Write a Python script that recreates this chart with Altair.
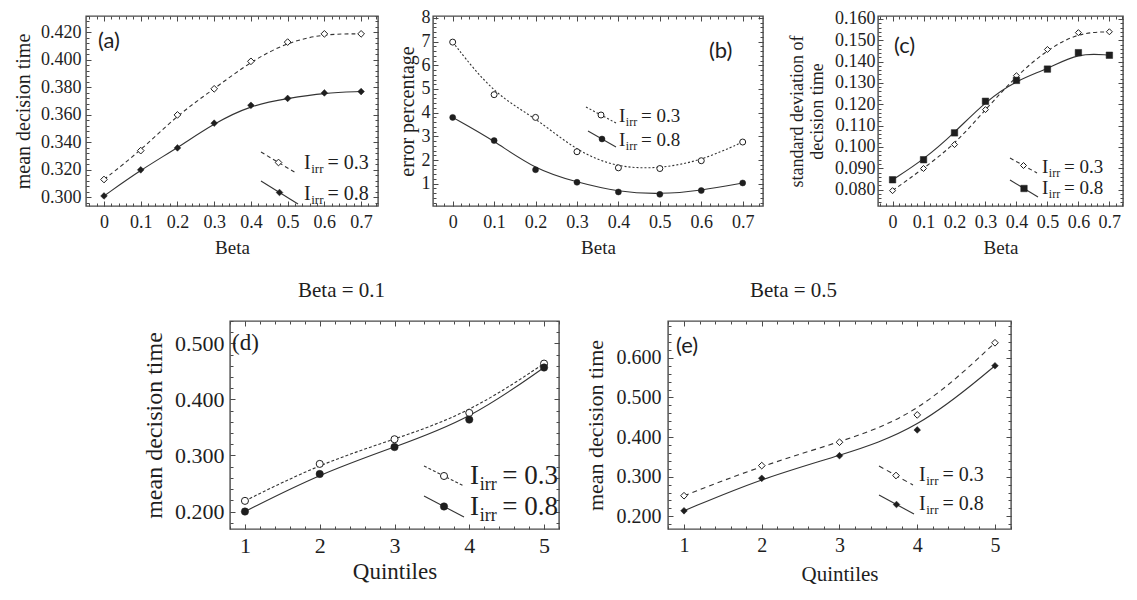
import math
import altair as alt
import pandas as pd

SERIF = "Liberation Serif"
SANS = "Lato"
INK = "#1e1e1e"
LINE = "#333333"
FRAME = "#4a4a4a"

# ---------------- data ----------------
beta = [0.0, 0.1, 0.2, 0.3, 0.4, 0.5, 0.6, 0.7]
quintiles = [1, 2, 3, 4, 5]

a_irr03 = [0.313, 0.334, 0.360, 0.379, 0.399, 0.413, 0.419, 0.419]
a_irr08 = [0.301, 0.320, 0.336, 0.354, 0.367, 0.372, 0.376, 0.377]

b_irr03 = [6.98, 4.76, 3.80, 2.35, 1.67, 1.64, 1.97, 2.76]
b_irr08 = [3.80, 2.82, 1.59, 1.06, 0.65, 0.55, 0.71, 1.03]

c_irr03 = [0.0795, 0.0899, 0.1011, 0.1175, 0.1334, 0.1457, 0.1536, 0.1540]
c_irr08 = [0.0846, 0.0940, 0.1066, 0.1214, 0.1312, 0.1365, 0.1442, 0.1430]

d_irr03 = [0.219, 0.285, 0.329, 0.376, 0.464]
d_irr08 = [0.200, 0.267, 0.315, 0.364, 0.457]

e_irr03 = [0.252, 0.328, 0.387, 0.456, 0.638]
e_irr08 = [0.214, 0.296, 0.353, 0.418, 0.580]

beta_ticks = [0, 0.1, 0.2, 0.3, 0.4, 0.5, 0.6, 0.7]
quint_ticks = [1, 2, 3, 4, 5]
a_ticks = [0.30, 0.32, 0.34, 0.36, 0.38, 0.40, 0.42]
b_ticks = [1, 2, 3, 4, 5, 6, 7, 8]
c_ticks = [0.08, 0.09, 0.10, 0.11, 0.12, 0.13, 0.14, 0.15, 0.16]
d_ticks = [0.2, 0.3, 0.4, 0.5]
e_ticks = [0.2, 0.3, 0.4, 0.5, 0.6]

legend_values = ["= 0.3", "= 0.8"]
panel_tags = ["(a)", "(b)", "(c)", "(d)", "(e)"]
row_titles = ["Beta = 0.1", "Beta = 0.5"]


def minor(lo, hi, step):
    start = math.ceil(lo / step - 1e-9)
    stop = math.floor(hi / step + 1e-9)
    return [round(k * step, 6) for k in range(start, stop + 1)]


one = pd.DataFrame({"k": [0]})


def tick_axis(orient, values, size):
    return alt.Axis(orient=orient, values=values, labels=False, domain=False, grid=False,
                    ticks=True, tickSize=size, offset=-size, tickColor=FRAME, tickWidth=1,
                    title=None)


def label_axis(orient, values, fmt, title, lfs, tfs, lp, tp, size=5, tlh=None):
    kw = dict(orient=orient, values=values, format=fmt, title=title, domain=False, grid=False,
              ticks=True, tickSize=size, offset=-size, tickColor=FRAME, tickWidth=1,
              labelFont=SERIF, labelFontSize=lfs, labelColor=INK, labelPadding=lp,
              labelFlush=False, labelOverlap=False,
              titleFont=SERIF, titleFontSize=tfs, titleFontWeight="normal",
              titleColor=INK, titlePadding=tp)
    if tlh:
        kw["titleLineHeight"] = tlh
    return alt.Axis(**kw)


def legend_layers(p):
    layers = []
    fs, sfs = p["leg_fs"], p["leg_sfs"]
    for i, (x1, y1, x2, y2, tx, by) in enumerate(p["leg_rows"]):
        rule_kw = dict(stroke=LINE, strokeWidth=1.1)
        if i == 0:
            rule_kw["strokeDash"] = p["dash"]
        layers.append(alt.Chart(one).mark_rule(**rule_kw).encode(
            x=alt.value(x1), y=alt.value(y1), x2=alt.value(x2), y2=alt.value(y2)))
        if i == 0:
            mk = alt.Chart(one).mark_point(shape=p["shape1"], size=p["size1"], filled=True,
                                           fill="white", stroke=INK, strokeWidth=1, opacity=1)
        else:
            mk = alt.Chart(one).mark_point(shape=p["shape2"], size=p["size2"], filled=True,
                                           fill=INK, stroke=INK, strokeWidth=0.5, opacity=1)
        layers.append(mk.encode(x=alt.value((x1 + x2) / 2), y=alt.value((y1 + y2) / 2)))
        sx = tx + 0.36 * fs
        ex = sx + 0.95 * sfs + 0.2 * fs
        layers.append(alt.Chart(one).mark_text(text="I", font=SERIF, fontSize=fs, align="left",
                                               baseline="alphabetic", color=INK)
                      .encode(x=alt.value(tx), y=alt.value(by)))
        layers.append(alt.Chart(one).mark_text(text="irr", font=SERIF, fontSize=sfs, align="left",
                                               baseline="alphabetic", color=INK)
                      .encode(x=alt.value(sx), y=alt.value(by + 0.22 * fs)))
        layers.append(alt.Chart(one).mark_text(text=legend_values[i], font=SERIF, fontSize=fs,
                                               align="left", baseline="alphabetic", color=INK)
                      .encode(x=alt.value(ex), y=alt.value(by)))
    return layers


def panel(p):
    xs = alt.Scale(domain=p["xdom"], nice=False, zero=False)
    ys = alt.Scale(domain=p["ydom"], nice=False, zero=False)
    d1 = pd.DataFrame({"x": p["x"], "y": p["s1"]})
    d2 = pd.DataFrame({"x": p["x"], "y": p["s2"]})

    def enc(xaxis, yaxis):
        return dict(x=alt.X("x:Q", scale=xs, axis=xaxis), y=alt.Y("y:Q", scale=ys, axis=yaxis))

    xmain = label_axis("bottom", p["xticks"], p["xfmt"], p["xtitle"], p["lfs"], p["xtfs"],
                       p["xlp"], p["xtp"])
    ymain = label_axis("left", p["yticks"], p["yfmt"], p["ytitle"], p["lfs"], p["ytfs"],
                       p["ylp"], p["ytp"], tlh=p.get("tlh"))

    layers = [
        alt.Chart(d1).mark_line(interpolate="basis", stroke=LINE, strokeWidth=1.1,
                                strokeDash=p["dash"]).encode(**enc(xmain, ymain)),
        alt.Chart(d2).mark_line(interpolate="basis", stroke=LINE, strokeWidth=1.1)
        .encode(**enc(None, None)),
        alt.Chart(d1).mark_point(shape=p["shape1"], size=p["size1"], filled=True, fill="white",
                                 stroke=INK, strokeWidth=1, opacity=1).encode(**enc(None, None)),
        alt.Chart(d2).mark_point(shape=p["shape2"], size=p["size2"], filled=True, fill=INK,
                                 stroke=INK, strokeWidth=0.5, opacity=1).encode(**enc(None, None)),
        alt.Chart(d1).mark_point(opacity=0).encode(
            **enc(tick_axis("top", p["xticks"], 5), tick_axis("right", p["yticks"], 5))),
        alt.Chart(d1).mark_point(opacity=0).encode(
            **enc(tick_axis("bottom", p["xminor"], 3), tick_axis("left", p["yminor"], 3))),
        alt.Chart(d1).mark_point(opacity=0).encode(
            **enc(tick_axis("top", p["xminor"], 3), tick_axis("right", p["yminor"], 3))),
    ]
    layers += legend_layers(p)
    layers.append(alt.Chart(one).mark_text(text=p["tag"], font=p["tagfont"], fontSize=p["tagfs"],
                                           align="left", baseline="middle", color=INK)
                  .encode(x=alt.value(p["tagx"]), y=alt.value(p["tagy"])))
    props = dict(width=p["w"], height=p["h"],
                 view=alt.ViewBackground(stroke=FRAME, strokeWidth=1.4))
    if p.get("title"):
        props["title"] = alt.TitleParams(text=p["title"], font=SERIF, fontSize=21,
                                         fontWeight="normal", color=INK, anchor="middle",
                                         dx=p["title_dx"], offset=20)
    return alt.layer(*layers).resolve_axis(x="independent", y="independent").properties(**props)


A = dict(x=beta, s1=a_irr03, s2=a_irr08, xdom=[-0.049, 0.746], ydom=[0.2937, 0.432], w=292, h=190,
         xticks=beta_ticks, yticks=a_ticks, xminor=minor(-0.049, 0.746, 0.02),
         yminor=minor(0.2937, 0.432, 0.004), xfmt="~g", yfmt=".3f", xtitle="Beta",
         ytitle="mean decision time", lfs=18, xtfs=19, ytfs=20, xlp=7, xtp=7, ylp=5, ytp=7,
         dash=[4, 3], shape1="diamond", size1=45, shape2="diamond", size2=45,
         tag=panel_tags[0], tagfont=SANS, tagfs=22, tagx=12, tagy=25,
         leg_fs=20, leg_sfs=13,
         leg_rows=[(175, 136, 210, 157, 218, 153), (175, 165, 212, 188, 218, 184)])

B = dict(x=beta, s1=b_irr03, s2=b_irr08, xdom=[-0.0475, 0.749], ydom=[0.058, 8.082], w=330, h=190,
         xticks=beta_ticks, yticks=b_ticks, xminor=minor(-0.0475, 0.749, 0.02),
         yminor=minor(0.058, 8.082, 0.2), xfmt="~g", yfmt="d", xtitle="Beta",
         ytitle="error percentage", lfs=18, xtfs=19, ytfs=20, xlp=7, xtp=7, ylp=3, ytp=4,
         dash=[2, 2], shape1="circle", size1=36, shape2="circle", size2=36,
         tag=panel_tags[1], tagfont=SANS, tagfs=22, tagx=276, tagy=35,
         leg_fs=19, leg_sfs=12,
         leg_rows=[(153, 91, 183, 107, 186, 106), (155, 115, 183, 131, 186, 130)])

C = dict(x=beta, s1=c_irr03, s2=c_irr08, xdom=[-0.047, 0.744], ydom=[0.0723, 0.1614], w=245, h=190,
         xticks=beta_ticks, yticks=c_ticks, xminor=minor(-0.047, 0.744, 0.02),
         yminor=minor(0.0723, 0.1614, 0.002), xfmt="~g", yfmt=".3f", xtitle="Beta",
         ytitle=["standard deviation of", "decision time"], tlh=20,
         lfs=18, xtfs=19, ytfs=18, xlp=7, xtp=7, ylp=3, ytp=8,
         dash=[4, 3], shape1="diamond", size1=36, shape2="square", size2=42,
         tag=panel_tags[2], tagfont=SANS, tagfs=22, tagx=16, tagy=30,
         leg_fs=19, leg_sfs=12,
         leg_rows=[(132, 142, 159, 157, 164, 157), (132, 164, 160, 181, 164, 178)])

D = dict(x=quintiles, s1=d_irr03, s2=d_irr08, xdom=[0.80, 5.20], ydom=[0.1688, 0.540], w=329, h=208,
         xticks=quint_ticks, yticks=d_ticks, xminor=minor(0.80, 5.20, 0.2),
         yminor=minor(0.1688, 0.540, 0.02), xfmt="d", yfmt=".3f", xtitle="Quintiles",
         ytitle="mean decision time", lfs=22, xtfs=23, ytfs=24, xlp=6, xtp=4, ylp=6, ytp=8,
         dash=[3, 2], shape1="circle", size1=50, shape2="circle", size2=55,
         tag=panel_tags[3], tagfont=SERIF, tagfs=23, tagx=2, tagy=22,
         leg_fs=27, leg_sfs=18, title=row_titles[0], title_dx=-53,
         leg_rows=[(194, 145, 234, 165, 240, 163), (194, 175, 234, 196, 240, 194)])

E = dict(x=quintiles, s1=e_irr03, s2=e_irr08, xdom=[0.794, 5.206], ydom=[0.168, 0.693], w=343, h=208,
         xticks=quint_ticks, yticks=e_ticks, xminor=minor(0.794, 5.206, 0.2),
         yminor=minor(0.168, 0.693, 0.02), xfmt="d", yfmt=".3f", xtitle="Quintiles",
         ytitle="mean decision time", lfs=20, xtfs=21, ytfs=22, xlp=6, xtp=8, ylp=7, ytp=9,
         dash=[5, 4], shape1="diamond", size1=45, shape2="diamond", size2=45,
         tag=panel_tags[4], tagfont=SANS, tagfs=22, tagx=8, tagy=25,
         leg_fs=20, leg_sfs=13, title=row_titles[1], title_dx=-46,
         leg_rows=[(211, 145, 245, 164, 251, 160), (211, 174, 246, 193, 251, 189)])


def spacer(w, h):
    return alt.Chart(one).mark_point(opacity=0).encode(
        x=alt.X("k:Q", axis=None), y=alt.Y("k:Q", axis=None)
    ).properties(width=w, height=h, view=alt.ViewBackground(stroke="transparent"))


top_row = alt.hconcat(panel(A), spacer(55, 190), panel(B), spacer(115, 190), panel(C),
                      spacing=0, bounds="flush")
bottom_row = alt.hconcat(spacer(144, 208), panel(D), spacer(109, 208), panel(E),
                         spacing=0, bounds="flush")

chart = alt.vconcat(top_row, bottom_row, spacing=20).properties(
    padding={"left": 4, "top": 0, "right": 0, "bottom": 0}
).configure(background="white")

chart.save("out.html", embed_options={"renderer": "svg", "actions": False})
